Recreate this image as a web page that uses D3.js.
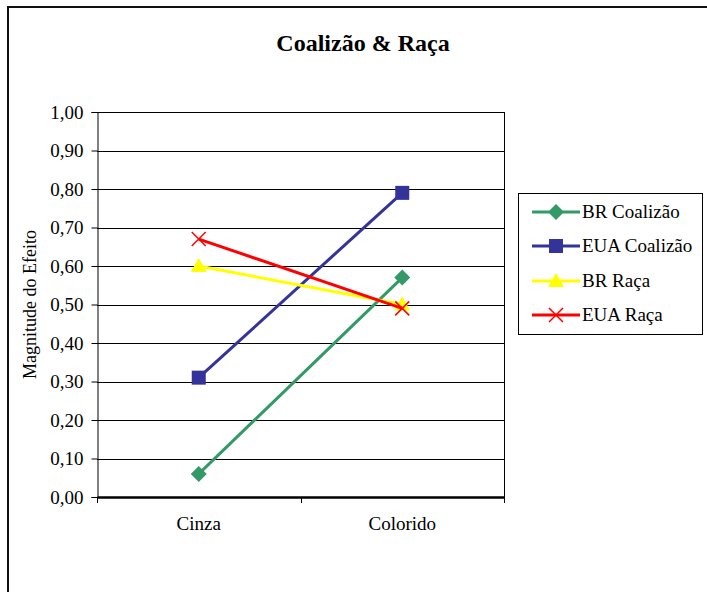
<!DOCTYPE html>
<html>
<head>
<meta charset="utf-8">
<script src="https://cdn.jsdelivr.net/npm/d3@7"></script>
<style>
  html, body { margin: 0; padding: 0; background: #fff; }
  svg { display: block; }
  text { font-family: "Liberation Serif", "Times New Roman", serif; fill: #000; }
</style>
</head>
<body>
<svg id="chart" width="707" height="592"></svg>
<script>
// Chart data
const categories = ["Cinza", "Colorido"];
const seriesNames = ["BR Coalizão", "EUA Coalizão", "BR Raça", "EUA Raça"];
const brCoalizao = [0.06, 0.57];
const euaCoalizao = [0.31, 0.79];
const brRaca = [0.60, 0.50];
const euaRaca = [0.67, 0.49];
const yTicks = [0, 0.1, 0.2, 0.3, 0.4, 0.5, 0.6, 0.7, 0.8, 0.9, 1.0];

const seriesValues = [brCoalizao, euaCoalizao, brRaca, euaRaca];
const colors = ["#339966", "#333399", "#FFFF00", "#FF0000"];
const markers = ["diamond", "square", "triangle", "cross"];

const serif = '"Liberation Serif", "Times New Roman", serif';
const svg = d3.select("#chart");

// Outer chart frame (left and top edges)
svg.append("path")
  .attr("d", "M8,592 L8,7 L707,7")
  .attr("fill", "none").attr("stroke", "#111").attr("stroke-width", 2);

// Title
svg.append("text")
  .attr("x", 363).attr("y", 51)
  .attr("text-anchor", "middle")
  .style("font-size", "24px").style("font-weight", "bold")
  .text("Coalizão & Raça");

const plot = { left: 97, right: 504, top: 112, bottom: 497 };

const x = d3.scaleBand().domain(categories).range([plot.left, plot.right]);
const y = d3.scaleLinear().domain([0, 1]).range([plot.bottom, plot.top]);

const fmt = v => d3.format(".2f")(v).replace(".", ",");

// Horizontal gridlines
svg.append("g").selectAll("line").data(yTicks.slice(1)).join("line")
  .attr("x1", plot.left).attr("x2", plot.right)
  .attr("y1", d => Math.round(y(d)) + 0.5).attr("y2", d => Math.round(y(d)) + 0.5)
  .attr("stroke", "#000").attr("stroke-width", 1);

// Right border of plot area
svg.append("line")
  .attr("x1", plot.right + 0.5).attr("x2", plot.right + 0.5)
  .attr("y1", plot.top).attr("y2", plot.bottom)
  .attr("stroke", "#000").attr("stroke-width", 1);

// Y axis
const yAxis = svg.append("g")
  .attr("transform", `translate(${plot.left + 0.5},0)`)
  .call(d3.axisLeft(y).tickValues(yTicks).tickFormat(fmt).tickSize(6).tickPadding(8));
yAxis.select(".domain").attr("stroke", "#000");
yAxis.selectAll(".tick line").attr("stroke", "#000");
yAxis.selectAll("text")
  .style("font-family", serif)
  .style("font-size", "19px").attr("fill", "#000");

// X axis
const xAxis = svg.append("g")
  .attr("transform", `translate(0,${plot.bottom})`)
  .call(d3.axisBottom(x).tickSize(0).tickPadding(20));
xAxis.select(".domain").attr("stroke", "#000").attr("stroke-width", 2.5);
xAxis.selectAll("text")
  .style("font-family", serif)
  .style("font-size", "19px").attr("fill", "#000");
// Category boundary tick marks
svg.append("g").selectAll("line").data([plot.left, (plot.left + plot.right) / 2, plot.right]).join("line")
  .attr("x1", d => Math.round(d) + 0.5).attr("x2", d => Math.round(d) + 0.5)
  .attr("y1", plot.bottom).attr("y2", plot.bottom + 6)
  .attr("stroke", "#000").attr("stroke-width", 1);

// Y axis title
svg.append("text")
  .attr("transform", `translate(36,${(plot.top + plot.bottom) / 2}) rotate(-90)`)
  .attr("text-anchor", "middle")
  .style("font-size", "18px")
  .text("Magnitude do Efeito");

function drawMarker(g, type, color) {
  if (type === "diamond") {
    g.append("path").attr("d", "M0,-8 L8,0 L0,8 L-8,0 Z").attr("fill", color);
  } else if (type === "square") {
    g.append("rect").attr("x", -7).attr("y", -7).attr("width", 14).attr("height", 14).attr("fill", color);
  } else if (type === "triangle") {
    g.append("path").attr("d", "M0,-8 L8,6 L-8,6 Z").attr("fill", color);
  } else if (type === "cross") {
    g.append("path").attr("d", "M-7,-7 L7,7 M-7,7 L7,-7")
      .attr("stroke", color).attr("stroke-width", 1.5).attr("fill", "none");
  }
}

const line = d3.line()
  .x((d, i) => x(categories[i]) + x.bandwidth() / 2)
  .y(d => y(d));

// Series lines and markers
seriesValues.forEach((vals, s) => {
  svg.append("path").datum(vals)
    .attr("d", line)
    .attr("fill", "none").attr("stroke", colors[s]).attr("stroke-width", 3);
  vals.forEach((v, i) => {
    const g = svg.append("g")
      .attr("transform", `translate(${x(categories[i]) + x.bandwidth() / 2},${y(v)})`);
    drawMarker(g, markers[s], colors[s]);
  });
});

// Legend
const legend = svg.append("g");
legend.append("rect")
  .attr("x", 518.5).attr("y", 193.5).attr("width", 184).attr("height", 141)
  .attr("fill", "#fff").attr("stroke", "#000").attr("stroke-width", 1);
const legendY = [212, 246, 281, 315];
seriesNames.forEach((name, s) => {
  const ly = legendY[s];
  legend.append("line")
    .attr("x1", 532).attr("x2", 580).attr("y1", ly).attr("y2", ly)
    .attr("stroke", colors[s]).attr("stroke-width", 3);
  const g = legend.append("g").attr("transform", `translate(556,${ly})`);
  drawMarker(g, markers[s], colors[s]);
  legend.append("text")
    .attr("x", 582).attr("y", ly + 6)
    .style("font-size", "19px")
    .text(name);
});
</script>
</body>
</html>
